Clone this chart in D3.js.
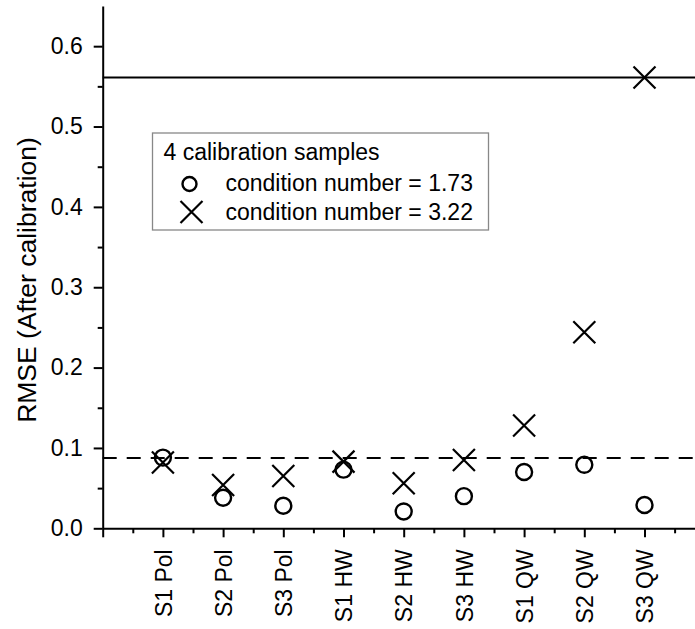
<!DOCTYPE html>
<html>
<head>
<meta charset="utf-8">
<script src="https://cdn.jsdelivr.net/npm/d3@7"></script>
<style>
  body { margin: 0; background: #fff; }
  svg { font-family: Arial, "Liberation Sans", sans-serif; }
  .axis path, .axis line { stroke: #000; stroke-width: 2; }
  .axis text { font-size: 23px; fill: #000; }
</style>
</head>
<body>
<div id="chart"></div>
<script>
// data
const samples = ['S1 Pol', 'S2 Pol', 'S3 Pol', 'S1 HW', 'S2 HW', 'S3 HW', 'S1 QW', 'S2 QW', 'S3 QW'];
const rmseCond173 = [0.088, 0.038, 0.028, 0.073, 0.021, 0.040, 0.070, 0.079, 0.029];
const rmseCond322 = [0.082, 0.054, 0.065, 0.083, 0.056, 0.085, 0.128, 0.244, 0.561];
const refSolid = 0.561;
const refDashed = 0.0875;
const yTicks = [0, 0.1, 0.2, 0.3, 0.4, 0.5, 0.6];
const legendTitle = '4 calibration samples';
const legendLabels = ['condition number = 1.73', 'condition number = 3.22'];

function drawChart() {
    let svgWidth = 695,
        svgHeight = 629,
        margin = {top: 6, left: 102.7, bottom: 100.7},
        plotWidth = 602,
        plotHeight = svgHeight - margin.top - margin.bottom,
        svg = d3.select('#chart').append('svg')
                .attr('width', svgWidth)
                .attr('height', svgHeight),
        plot = svg.append('g')
                  .attr('transform', `translate(${margin.left}, ${margin.top})`);

    let xScale = d3.scaleLinear().domain([0, 10]).range([0, plotWidth]),
        yScale = d3.scaleLinear().domain([0, 0.65]).range([plotHeight, 0]);

    // minor ticks first so major ones sit on top
    let xMinor = d3.range(0.5, 10, 1),
        yMinor = d3.range(0.05, 0.65, 0.1);
    plot.append('g').attr('class', 'axis')
        .attr('transform', `translate(0, ${plotHeight})`)
        .call(d3.axisBottom(xScale).tickValues(xMinor).tickSize(5).tickFormat(''))
        .select('.domain').remove();
    plot.append('g').attr('class', 'axis')
        .call(d3.axisLeft(yScale).tickValues(yMinor).tickSize(5).tickFormat(''))
        .select('.domain').remove();

    // x axis with category names
    let xAxis = plot.append('g').attr('class', 'axis')
        .attr('transform', `translate(0, ${plotHeight})`)
        .call(d3.axisBottom(xScale)
                .tickValues(d3.range(0, 11))
                .tickSize(9)
                .tickSizeOuter(0)
                .tickFormat(i => samples[i - 1] || ''));
    xAxis.selectAll('.tick text')
         .attr('text-anchor', 'end')
         .attr('transform', 'rotate(-90)')
         .attr('x', -21)
         .attr('y', 0)
         .attr('dy', '0.36em');

    // y axis
    plot.append('g').attr('class', 'axis')
        .call(d3.axisLeft(yScale)
                .tickValues(yTicks)
                .tickSize(9)
                .tickSizeOuter(0)
                .tickPadding(11)
                .tickFormat(d3.format('.1f')));

    svg.append('text')
       .attr('transform', 'translate(36, 280) rotate(-90)')
       .attr('text-anchor', 'middle')
       .attr('font-size', 26.5)
       .text('RMSE (After calibration)');

    // reference lines
    plot.append('line')
        .attr('x1', 0).attr('x2', plotWidth)
        .attr('y1', yScale(refSolid)).attr('y2', yScale(refSolid))
        .attr('stroke', '#000').attr('stroke-width', 2);
    plot.append('line')
        .attr('x1', 0).attr('x2', plotWidth)
        .attr('y1', yScale(refDashed)).attr('y2', yScale(refDashed))
        .attr('stroke', '#000').attr('stroke-width', 2.2)
        .attr('stroke-dasharray', '14,10');

    // markers
    let r = 8, c = 11;
    plot.append('g').selectAll('circle')
        .data(rmseCond173)
        .enter().append('circle')
        .attr('cx', (d, i) => xScale(i + 1))
        .attr('cy', d => yScale(d))
        .attr('r', r)
        .attr('fill', 'none')
        .attr('stroke', '#000')
        .attr('stroke-width', 2.4);

    function cross(sel, x, y) {
        sel.append('path')
           .attr('d', `M${x - c},${y - c}L${x + c},${y + c}M${x - c},${y + c}L${x + c},${y - c}`)
           .attr('fill', 'none')
           .attr('stroke', '#000')
           .attr('stroke-width', 2.2);
    }
    let crosses = plot.append('g');
    rmseCond322.forEach((d, i) => cross(crosses, xScale(i + 1), yScale(d)));

    // legend
    let legend = svg.append('g').attr('transform', 'translate(152.5, 133)');
    legend.append('rect')
          .attr('width', 336).attr('height', 97)
          .attr('fill', '#fff')
          .attr('stroke', '#888').attr('stroke-width', 1.3);
    legend.append('text')
          .attr('x', 11).attr('y', 27)
          .attr('font-size', 23)
          .text(legendTitle);
    legend.append('circle')
          .attr('cx', 37).attr('cy', 51).attr('r', 7)
          .attr('fill', 'none').attr('stroke', '#000').attr('stroke-width', 2.4);
    cross(legend, 39, 79);
    legendLabels.forEach((t, i) => {
        legend.append('text')
              .attr('x', 73).attr('y', 58 + 29 * i)
              .attr('font-size', 23)
              .text(t);
    });
}

drawChart();
</script>
</body>
</html>
